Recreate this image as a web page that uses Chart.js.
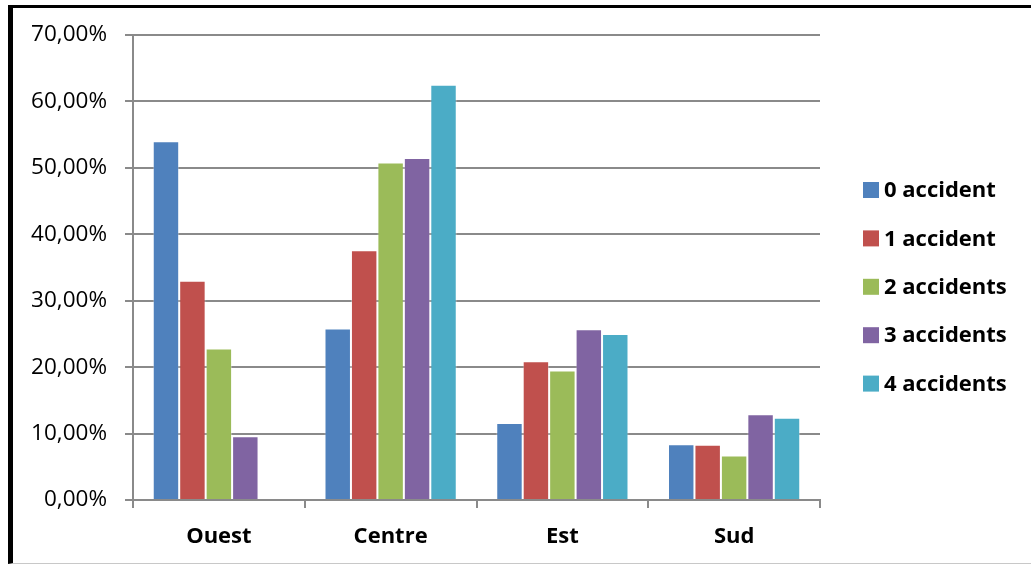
<!DOCTYPE html>
<html>
<head>
<meta charset="utf-8">
<script src="https://cdn.jsdelivr.net/npm/chart.js@4"></script>
<style>
  html, body { margin: 0; padding: 0; background: #fff; }
  #frame {
    position: absolute; left: 8px; top: 5px;
    width: 1018px; height: 555px;
    border-left: 5px solid #000; border-top: 3px solid #000;
    border-bottom: 1px solid #c8c8c8;
  }
</style>
</head>
<body>
<div id="frame"><canvas id="chart" width="1018" height="555"></canvas></div>
<script>
// regions on the x axis
const regions = ['Ouest', 'Centre', 'Est', 'Sud'];

// share of drivers per region (%), one array per accident count
const acc0 = [54.0, 25.8, 11.6, 8.4];
const acc1 = [33.0, 37.6, 20.9, 8.3];
const acc2 = [22.8, 50.8, 19.5, 6.7];
const acc3 = [9.6, 51.5, 25.7, 12.9];
const acc4 = [0, 62.5, 25.0, 12.4];

const seriesLabels = ['0 accident', '1 accident', '2 accidents', '3 accidents', '4 accidents'];
const seriesColors = ['#4F81BD', '#C0504D', '#9BBB59', '#8064A2', '#4BACC6'];

const yMax = 70;
const yStep = 10;

const FONT = '"Open Sans", "Noto Sans", sans-serif';
const GRID = '#8a8a8a';

const allSeries = [acc0, acc1, acc2, acc3, acc4];
const datasets = allSeries.map((vals, i) => ({
    label: seriesLabels[i],
    data: vals,
    backgroundColor: seriesColors[i],
    borderColor: 'rgba(255,255,255,0.35)',
    borderWidth: 1,
    categoryPercentage: 0.77,
    barPercentage: 1.0,
}));

// legend drawn on the right, like the Excel original
const sideLegend = {
    id: 'sideLegend',
    afterDraw(chart) {
        const ctx = chart.ctx;
        ctx.save();
        ctx.font = 'bold 22px ' + FONT;
        ctx.textBaseline = 'middle';
        ctx.textAlign = 'left';
        chart.data.datasets.forEach((ds, i) => {
            const cy = 182 + i * 48.4;
            ctx.fillStyle = ds.backgroundColor;
            ctx.fillRect(850, cy - 8, 16, 16);
            ctx.fillStyle = '#000';
            ctx.fillText(ds.label, 871, cy + 1);
        });
        ctx.restore();
    }
};

const ctx = document.getElementById('chart').getContext('2d');
new Chart(ctx, {
    type: 'bar',
    data: { labels: regions, datasets: datasets },
    options: {
        responsive: false,
        animation: false,
        layout: { padding: { top: 27, right: 211, left: 0, bottom: 0 } },
        plugins: {
            legend: { display: false },
            tooltip: { enabled: false },
        },
        scales: {
            x: {
                afterFit: (s) => { s.height = 63; },
                grid: {
                    offset: true,
                    drawOnChartArea: false,
                    drawTicks: true,
                    tickLength: 8,
                    color: GRID,
                    lineWidth: 2,
                },
                border: { color: GRID, width: 2 },
                ticks: {
                    color: '#000',
                    padding: 16,
                    font: { family: FONT, size: 22, weight: 'bold' },
                },
            },
            y: {
                min: 0,
                max: yMax,
                afterFit: (s) => { s.width = 120; s.paddingTop = 0; s.paddingBottom = 0; },
                grid: {
                    color: GRID,
                    lineWidth: 2,
                    tickLength: 8,
                },
                border: { color: GRID, width: 2 },
                ticks: {
                    stepSize: yStep,
                    color: '#000',
                    padding: 18,
                    font: { family: FONT, size: 22.5 },
                    callback: (v) => v.toFixed(2).replace('.', ',') + '%',
                },
            },
        },
    },
    plugins: [sideLegend],
});
</script>
</body>
</html>
